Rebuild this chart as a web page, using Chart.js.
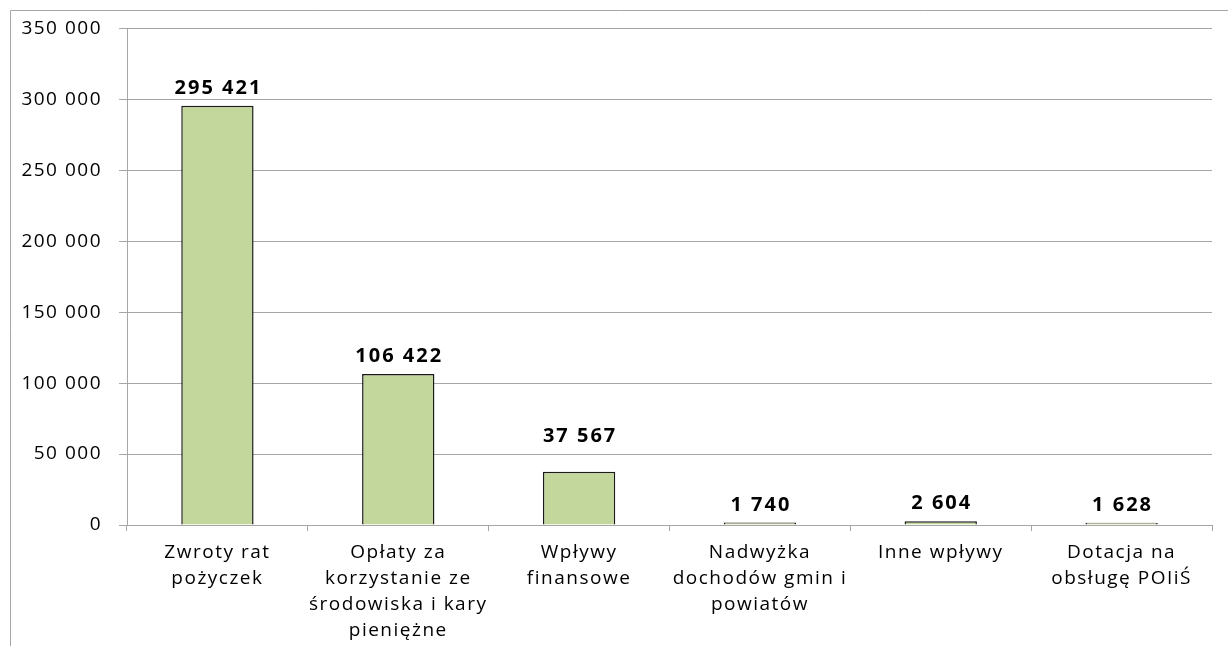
<!DOCTYPE html>
<html>
<head>
<meta charset="utf-8">
<script src="https://cdn.jsdelivr.net/npm/chart.js@4"></script>
<style>
  body { margin: 0; background: #fff; }
  canvas { display: block; }
</style>
</head>
<body>
<canvas id="incomeChart" width="1228" height="646"></canvas>
<script>
// Chart data
const categories = [
    ['Zwroty rat', 'pożyczek'],
    ['Opłaty za', 'korzystanie ze', 'środowiska i kary', 'pieniężne'],
    ['Wpływy', 'finansowe'],
    ['Nadwyżka', 'dochodów gmin i', 'powiatów'],
    ['Inne wpływy'],
    ['Dotacja na', 'obsługę POIiŚ']
];
const values = [295421, 106422, 37567, 1740, 2604, 1628];
const yTicks = [0, 50000, 100000, 150000, 200000, 250000, 300000, 350000];

const FONT = "'Open Sans', sans-serif";

function fmt(v) {
    return String(v).replace(/\B(?=(\d{3})+(?!\d))/g, ' ');
}

// wider letters like the original picture
const spacingPlugin = {
    id: 'spacing',
    beforeUpdate(chart) { chart.ctx.letterSpacing = '1.5px'; },
    beforeDraw(chart) {
        const ctx = chart.ctx;
        ctx.letterSpacing = '1.5px';
        // outer frame (left and top edge only)
        ctx.save();
        ctx.strokeStyle = '#a6a6a6';
        ctx.lineWidth = 1;
        ctx.beginPath();
        ctx.moveTo(10.5, 646);
        ctx.lineTo(10.5, 10.5);
        ctx.lineTo(1228, 10.5);
        ctx.stroke();
        ctx.restore();
    }
};

// value labels above the bars (the third one sits a bit higher in the original)
const valueLabels = {
    id: 'valueLabels',
    afterDatasetsDraw(chart) {
        const ctx = chart.ctx;
        const meta = chart.getDatasetMeta(0);
        ctx.save();
        ctx.letterSpacing = '2px';
        ctx.font = 'bold 20px ' + FONT;
        ctx.fillStyle = '#000';
        ctx.textAlign = 'center';
        ctx.textBaseline = 'alphabetic';
        meta.data.forEach((bar, i) => {
            const lift = i === 2 ? 30 : 12;
            ctx.fillText(fmt(values[i]), bar.x + 1, bar.y - lift);
        });
        ctx.restore();
    }
};

document.addEventListener('DOMContentLoaded', function() {
    const ctx = document.getElementById('incomeChart').getContext('2d');
    new Chart(ctx, {
        type: 'bar',
        data: {
            labels: categories,
            datasets: [{
                data: values,
                backgroundColor: '#c3d69b',
                borderColor: '#1a1a1a',
                borderWidth: 1.5,
                barPercentage: 0.4,
                categoryPercentage: 1
            }]
        },
        options: {
            responsive: false,
            animation: false,
            layout: { padding: { top: 2, right: 16, left: 10, bottom: 0 } },
            plugins: {
                legend: { display: false },
                tooltip: { enabled: false }
            },
            scales: {
                x: {
                    offset: true,
                    grid: {
                        offset: true,
                        drawOnChartArea: false,
                        drawTicks: true,
                        tickLength: 6,
                        color: '#a6a6a6'
                    },
                    border: { color: '#a6a6a6', width: 1 },
                    ticks: {
                        color: '#000',
                        font: { family: FONT, size: 19, lineHeight: 1.38 },
                        padding: 8,
                        maxRotation: 0,
                        autoSkip: false
                    },
                    afterFit(scale) { scale.height = 121; }
                },
                y: {
                    min: 0,
                    max: 350000,
                    afterBuildTicks(scale) {
                        scale.ticks = yTicks.map(v => ({ value: v }));
                    },
                    grid: {
                        color: '#a6a6a6',
                        tickLength: 8
                    },
                    border: { color: '#a6a6a6', width: 1 },
                    ticks: {
                        color: '#000',
                        font: { family: FONT, size: 19 },
                        padding: 17,
                        callback: v => fmt(v)
                    },
                    afterFit(scale) { scale.width = 117; }
                }
            }
        },
        plugins: [spacingPlugin, valueLabels]
    });
});
</script>
</body>
</html>
